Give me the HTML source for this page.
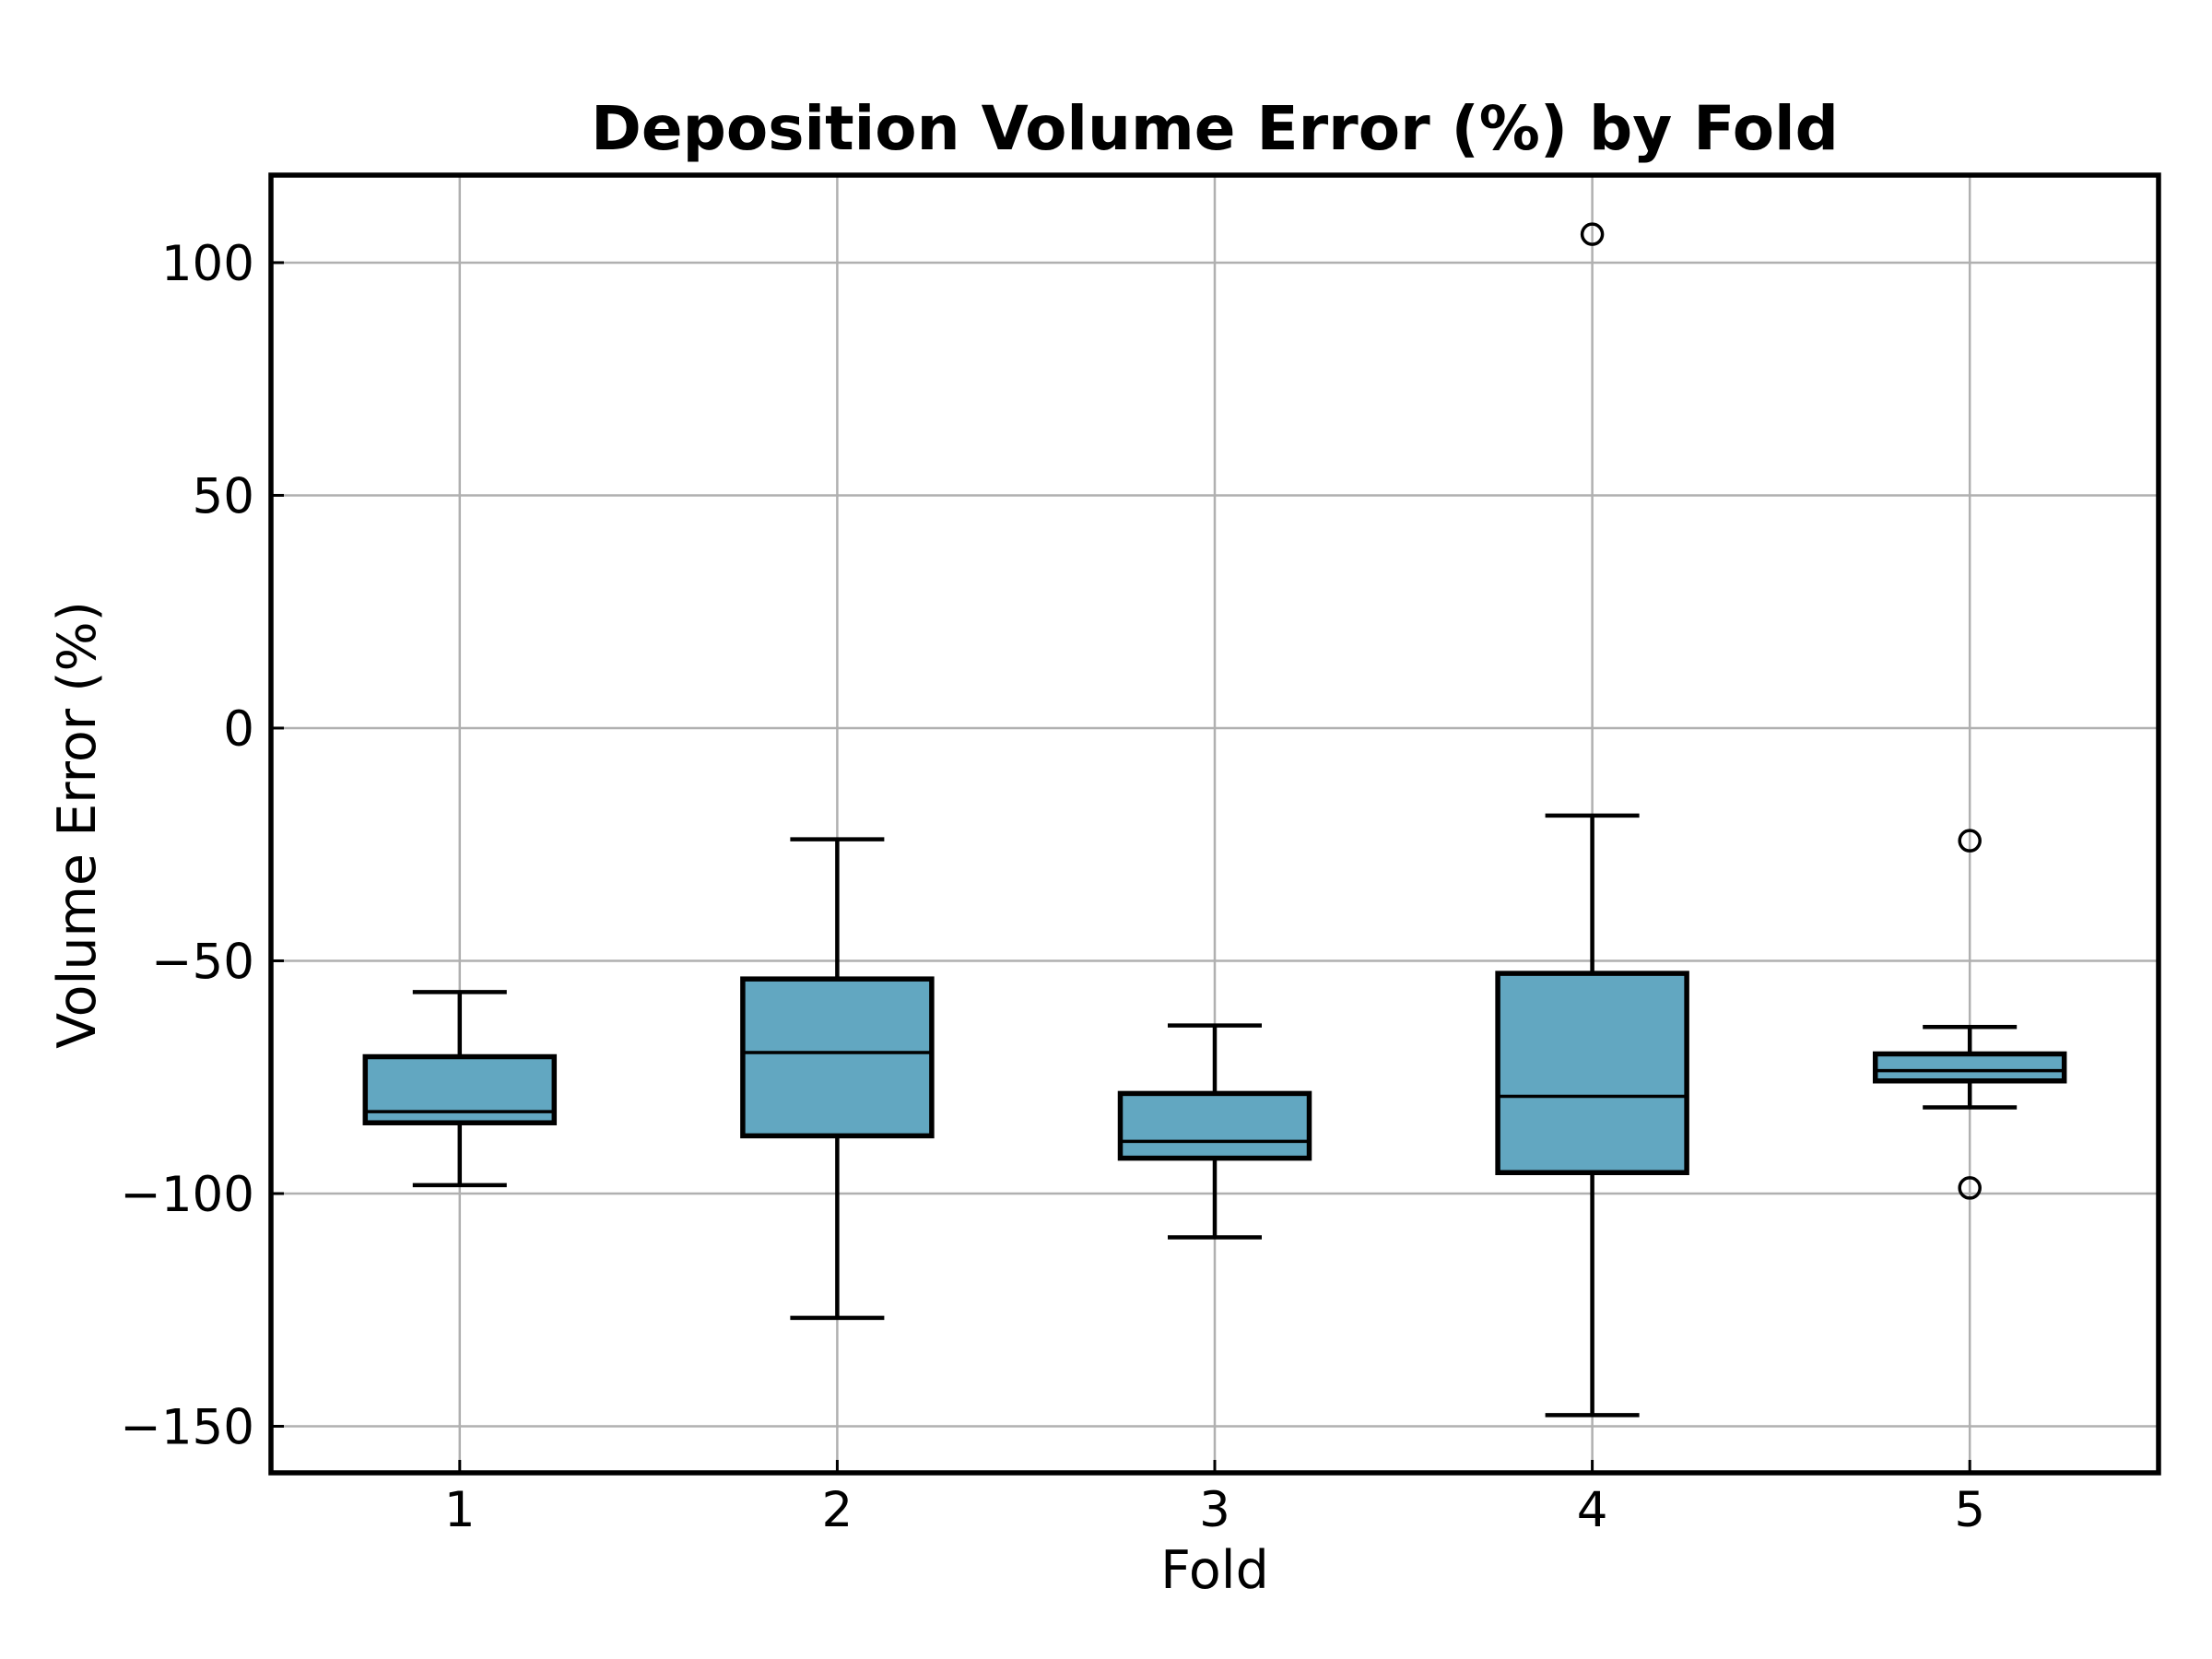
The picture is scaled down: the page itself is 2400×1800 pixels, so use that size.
<!DOCTYPE html>
<html><head><meta charset="utf-8"><style>
html,body{margin:0;padding:0;background:#fff}
svg{display:block;font-family:"DejaVu Sans","Liberation Sans",sans-serif}
</style></head><body>
<svg id="chart" width="2400" height="1800" viewBox="0 0 2400 1800" xmlns="http://www.w3.org/2000/svg">
<rect width="2400" height="1800" fill="#fff"/>
<text x="1318" y="162" text-anchor="middle" font-size="66" font-weight="bold">Deposition Volume Error (%) by Fold</text>
<g id="grid"></g>
<g id="marks"></g>
<rect x="294" y="190" width="2048" height="1408" fill="none" stroke="#000" stroke-width="5.5"/>
<g id="ticks"></g>
<text x="1318" y="1723" text-anchor="middle" font-size="57">Fold</text>
<text transform="translate(103,895) rotate(-90)" text-anchor="middle" font-size="57">Volume Error (%)</text>
</svg>
<script>
const categories = ["1","2","3","4","5"];
const whiskerLow = [-98.2,-126.7,-109.4,-147.6,-81.5];
const q1Values = [-84.8,-87.6,-92.4,-95.5,-75.8];
const medianValues = [-82.4,-69.7,-88.8,-79.1,-73.6];
const q3Values = [-70.6,-53.9,-78.5,-52.7,-70.0];
const whiskerHigh = [-56.7,-23.9,-63.9,-18.8,-64.2];
const outliers = [[],[],[],[106.1],[-24.2,-98.8]];
const yTicks = [100,50,0,-50,-100,-150];
const yTickLabels = ["100","50","0","\u221250","\u2212100","\u2212150"];

const L=294,R=2342,T=190,B=1598, yMin=-160, yMax=118.8;
function y(v){return B-(v-yMin)/(yMax-yMin)*(B-T);}
function x(i){return L+(i+0.5)/categories.length*(R-L);}
const NS="http://www.w3.org/2000/svg";
function mk(tag,attrs,parent){const e=document.createElementNS(NS,tag);for(const k in attrs)e.setAttribute(k,attrs[k]);parent.appendChild(e);return e;}
const grid=document.getElementById('grid'),marks=document.getElementById('marks'),ticks=document.getElementById('ticks');
const bw=102.5, cw=51;
yTicks.forEach((t,j)=>{
  const g=mk('line',{x1:L,x2:R,y1:y(t),y2:y(t),stroke:'#b0b0b0','stroke-width':2.5},grid);
  
  
  const tk=mk('line',{x1:L,x2:L+14,y1:y(t),y2:y(t),stroke:'#000','stroke-width':3},ticks);
  
  
  const lb=mk('text',{x:276,y:y(t)+19,'text-anchor':'end','font-size':53},ticks);
  lb.textContent=yTickLabels[j];
  
  
});
categories.forEach((c,i)=>{
  const cx=x(i);
  const g=mk('line',{x1:cx,x2:cx,y1:T,y2:B,stroke:'#b0b0b0','stroke-width':2.5},grid);
  
  
  const tk=mk('line',{x1:cx,x2:cx,y1:B-14,y2:B,stroke:'#000','stroke-width':3},ticks);
  
  
  const lb=mk('text',{x:cx,y:1656,'text-anchor':'middle','font-size':53},ticks);
  lb.textContent=c;
  
  
  const grp=mk('g',{},marks);
  
  
  const w1=mk('line',{x1:cx,x2:cx,y1:y(q3Values[i]),y2:y(whiskerHigh[i]),stroke:'#000','stroke-width':4.5},grp);
  
  
  const w2=mk('line',{x1:cx,x2:cx,y1:y(q1Values[i]),y2:y(whiskerLow[i]),stroke:'#000','stroke-width':4.5},grp);
  
  
  const c1=mk('line',{x1:cx-cw,x2:cx+cw,y1:y(whiskerHigh[i]),y2:y(whiskerHigh[i]),stroke:'#000','stroke-width':4.5},grp);
  
  
  const c2=mk('line',{x1:cx-cw,x2:cx+cw,y1:y(whiskerLow[i]),y2:y(whiskerLow[i]),stroke:'#000','stroke-width':4.5},grp);
  
  
  const bx=mk('rect',{x:cx-bw,y:y(q3Values[i]),width:2*bw,height:y(q1Values[i])-y(q3Values[i]),fill:'#62a7c1',stroke:'#000','stroke-width':5.5},grp);
  
  
  const md=mk('line',{x1:cx-bw,x2:cx+bw,y1:y(medianValues[i]),y2:y(medianValues[i]),stroke:'#000','stroke-width':3.5},grp);
  
  
  outliers[i].forEach(o=>{
    const p=mk('circle',{cx:cx,cy:y(o),r:11,fill:'none',stroke:'#000','stroke-width':3.5},grp);
    
    
  });
});
</script>
</body></html>
